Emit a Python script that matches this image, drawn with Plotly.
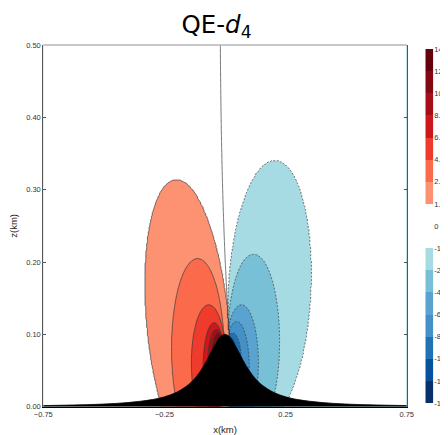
import numpy as np
import plotly.graph_objects as go

# ---------------- data ----------------
pos_levels = [1, 2, 4, 6, 8, 10, 12, 14]
neg_levels = [-1, -2, -4, -6, -8, -10, -12, -14]
pos_colors = ["#fc9272", "#fb6a4a", "#ef3b2c", "#cb181d", "#a50f15", "#830812", "#67000d"]
neg_colors = ["#a6dbe4", "#78c0d6", "#5aa2cf", "#4391c6", "#2171b5", "#08519c", "#08306b"]
cbar_labels = ["-14", "-12", "-10.", "-8.", "-6.", "-4.", "-2.", "-1.", "0",
               "1.", "2.", "4.", "6.", "8.", "10.", "12.", "14."]

# outline of each contour level (ellipse-like): centre x, centre z,
# left half-width, right half-width, half-height, lean dx/dz   (km)
pos_xc = [-0.147, -0.113, -0.067, -0.045, -0.035, -0.028, -0.022, -0.016]
pos_zc = [0.1145, 0.080, 0.060, 0.055, 0.060, 0.060, 0.060, 0.060]
pos_hwl = [0.178, 0.108, 0.072, 0.045, 0.036, 0.031, 0.026, 0.020]
pos_hwr = [0.165, 0.108, 0.072, 0.045, 0.036, 0.031, 0.026, 0.020]
pos_hh = [0.200, 0.125, 0.081, 0.061, 0.047, 0.042, 0.037, 0.031]
pos_k = [-0.258, 0.0, 0.0, 0.0, 0.0, 0.0, 0.0, 0.0]

neg_xc = [0.182, 0.118, 0.068, 0.048, 0.033, 0.024, 0.018, 0.013]
neg_zc = [0.160, 0.090, 0.060, 0.055, 0.060, 0.060, 0.060, 0.060]
neg_hwl = [0.170, 0.108, 0.070, 0.052, 0.035, 0.025, 0.018, 0.013]
neg_hwr = [0.174, 0.108, 0.070, 0.052, 0.035, 0.025, 0.018, 0.013]
neg_hh = [0.181, 0.121, 0.081, 0.063, 0.042, 0.036, 0.030, 0.025]
neg_k = [0.13, 0.0, 0.0, 0.0, 0.0, 0.0, 0.0, 0.0]

# hill profile (km)
hill_x = [-0.75, -0.6, -0.5, -0.4, -0.3, -0.25, -0.2, -0.15, -0.125, -0.1, -0.075,
          -0.05, -0.025, -0.0125, 0.0, 0.0125, 0.025, 0.05, 0.075, 0.1, 0.125, 0.15,
          0.2, 0.25, 0.3, 0.4, 0.5, 0.6, 0.75]
hill_z = [0.0017, 0.0027, 0.0038, 0.0059, 0.0100, 0.0138, 0.0200, 0.0308, 0.0390,
          0.0500, 0.0640, 0.0800, 0.0941, 0.0985, 0.1000, 0.0985, 0.0941, 0.0800,
          0.0640, 0.0500, 0.0390, 0.0308, 0.0200, 0.0138, 0.0100, 0.0059, 0.0038,
          0.0027, 0.0017]

x_ticks = [-0.75, -0.25, 0.25, 0.75]
z_ticks = [0.0, 0.1, 0.2, 0.3, 0.4, 0.5]

# ---------------- field on a grid (in level-index units) ----------------
gx = np.linspace(-0.75, 0.75, 451)
gz = np.linspace(0.0, 0.5, 301)
GX, GZ = np.meshgrid(gx, gz)


def ell_s(xc, zc, hwl, hwr, hh, k):
    dz = GZ - zc
    dx = GX - xc - k * dz
    hw = np.where(dx < 0, hwl, hwr)
    return np.sqrt((dx / hw) ** 2 + (dz / hh) ** 2) - 1.0


def lobe(xc, zc, hwl, hwr, hh, k):
    S = [ell_s(*p) for p in zip(xc, zc, hwl, hwr, hh, k)]
    n = len(S)
    deep = np.zeros(GX.shape, dtype=int)
    for i in range(n):
        deep = np.where(S[i] < 0, i + 1, deep)
    f = np.zeros(GX.shape)
    with np.errstate(divide="ignore", invalid="ignore"):
        for i in range(n):
            m = deep == i + 1
            if i + 1 < n:
                phi = np.clip(S[i] / (S[i] - S[i + 1]), 0, 0.999)
                f = np.where(m, (i + 1) + phi, f)
            else:
                f = np.where(m, n + 0.5 * np.clip(-S[i], 0, 1), f)
    return f, S[0], deep > 0


fR, sR, inR = lobe(pos_xc, pos_zc, pos_hwl, pos_hwr, pos_hh, pos_k)
fB, sB, inB = lobe(neg_xc, neg_zc, neg_hwl, neg_hwr, neg_hh, neg_k)
field = 1.0 / (1.0 + sR) ** 2 - 1.0 / (1.0 + sB) ** 2
field = np.where(inR & ~inB, fR, field)
field = np.where(inB & ~inR, -fB, field)
both = inR & inB
field = np.where(both & (sR < sB), fR, field)
field = np.where(both & (sR >= sB), -fB, field)
field = field.astype(np.float32)

nP, nN = len(pos_levels), len(neg_levels)
# stepped colour scale for the filled bands (index units)
nc = nP + nN + 1
scale = []
for j in range(nc + 1):
    m = j - nN - 1  # band (m, m+1)
    if m >= 1:
        col = pos_colors[min(m - 1, len(pos_colors) - 1)]
    elif m <= -2:
        col = neg_colors[min(-m - 2, len(neg_colors) - 1)]
    else:
        col = "#ffffff"
    scale.append([j / nc, col])

fig = go.Figure()
fig.add_trace(go.Contour(
    x=gx, y=gz, z=field, autocontour=False,
    contours=dict(start=-nN, end=nP, size=1, coloring="fill", showlines=False),
    colorscale=scale, showscale=False, line=dict(width=0), hoverinfo="skip"))
fig.add_trace(go.Contour(
    x=gx, y=gz, z=field, autocontour=False,
    contours=dict(start=0, end=nP, size=1, coloring="none", showlines=True),
    line=dict(color="#3a3a3a", width=0.7), showscale=False, hoverinfo="skip"))
fig.add_trace(go.Contour(
    x=gx, y=gz, z=field, autocontour=False,
    contours=dict(start=-nN, end=-1, size=1, coloring="none", showlines=True),
    line=dict(color="#3a3a3a", width=0.7, dash="2px,1.6px"), showscale=False,
    hoverinfo="skip"))
fig.add_trace(go.Scatter(
    x=hill_x, y=hill_z, mode="lines", line=dict(color="black", width=0.8, shape="spline"),
    fill="tozeroy", fillcolor="black", hoverinfo="skip", showlegend=False))

# colour bar drawn as a one-column heatmap
bounds = neg_levels[::-1] + [0] + pos_levels
band_cols = neg_colors[::-1] + [None, None] + pos_colors
nb = len(bounds) - 1
cb_z = [[j if band_cols[j] else None] for j in range(nb)]
cb_scale = [[j / (nb - 1), band_cols[j] or "#ffffff"] for j in range(nb)]
fig.add_trace(go.Heatmap(
    x=[0], y=[j + 0.5 for j in range(nb)], z=cb_z, zmin=0, zmax=nb - 1,
    colorscale=cb_scale, showscale=False, xaxis="x2", yaxis="y2", hoverinfo="skip"))

# page body has an 8px margin: lay the figure out in a 440x427 box
OFF = 8
W, H = 448 - OFF, 435 - OFF


def px(x):
    return (x - OFF) / W


def py(y):
    return (H - (y - OFF)) / H


tickfont = dict(family="Liberation Sans, Arial, sans-serif", size=7.5, color="#333")
fig.update_layout(
    template="none", width=W, height=H, margin=dict(l=0, r=0, t=0, b=0),
    paper_bgcolor="white", plot_bgcolor="white", showlegend=False,
    title=dict(text="QE-<i>d</i><sub>4</sub>", x=px(216.5), xanchor="center",
               xref="paper", yref="container", y=py(24), yanchor="middle",
               font=dict(family="DejaVu Sans", size=24.5, color="black")),
    xaxis=dict(domain=[px(43.3), px(406.7)], range=[-0.75, 0.75], tickvals=x_ticks,
               tickformat=".2f", ticks="", showgrid=False, zeroline=False,
               showline=True, linecolor="black", linewidth=1.2, tickfont=tickfont,
               title=dict(text="x(km)", standoff=8,
                          font=dict(family="Liberation Sans, Arial", size=9.5, color="#222"))),
    yaxis=dict(domain=[py(406.8), py(45)], range=[0, 0.5], tickvals=z_ticks,
               tickformat=".2f", ticks="inside", ticklen=3, tickcolor="#555",
               showgrid=False, zeroline=False, showline=True, linecolor="#555",
               linewidth=1, mirror="ticks", tickfont=tickfont,
               title=dict(text="z(km)", standoff=8,
                          font=dict(family="Liberation Sans, Arial", size=9.5, color="#222"))),
    xaxis2=dict(domain=[px(425.3), px(433.3)], range=[-0.5, 0.5], visible=False,
                anchor="y2"),
    yaxis2=dict(domain=[py(403), py(49)], range=[0, nb], anchor="x2",
                side="right", tickvals=list(range(nb + 1)), ticktext=cbar_labels,
                ticks="", showgrid=False, zeroline=False, showline=False,
                ticklabelstandoff=0, tickfont=tickfont),
    shapes=[dict(type="line", xref="x domain", yref="y domain", x0=0, x1=1, y0=1, y1=1,
                 line=dict(color="#b5b5b5", width=1.5))],
)

fig.write_html("out.html")
